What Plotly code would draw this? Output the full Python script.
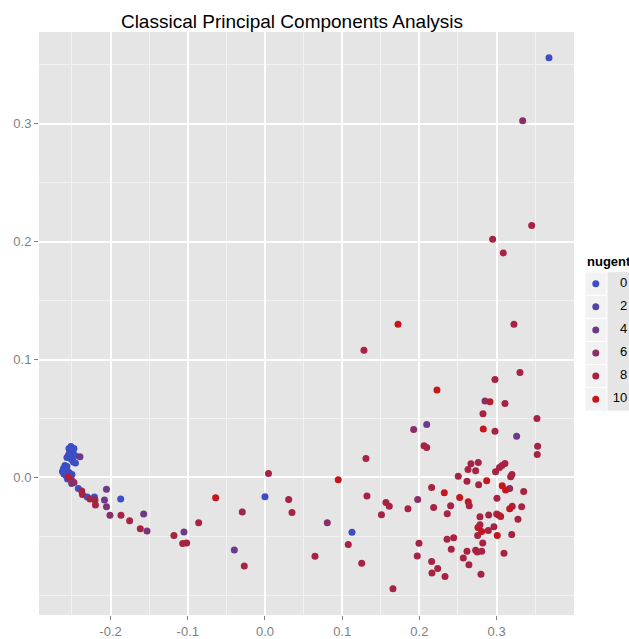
import plotly.graph_objects as go

# ---- data (PC1, PC2, nugent score) ----
pc1 = [
    -0.2513, -0.2494, -0.2526, -0.2474, -0.2545, -0.2565, -0.2487, -0.2461, -0.2506, -0.2481,
    -0.2455, -0.2539, -0.2526, -0.2591, -0.2610, -0.2623, -0.2604, -0.2571, -0.2545, -0.2578,
    -0.2526, -0.2565, -0.2604, -0.2539, -0.2558, -0.2500, -0.2418, -0.2302, -0.2209, -0.1869,
    0.0000, 0.1127, 0.3679,
    -0.2396, -0.2548, -0.2504, -0.2504, -0.2474, -0.2374, -0.2364, -0.2267, -0.2202, -0.2196,
    -0.2053, -0.2079, -0.2053, -0.2008, -0.1865, -0.1753, -0.1615, -0.1571, -0.1528, -0.1179,
    -0.1049, -0.1066, -0.1014, -0.0859, -0.0639, -0.0397, -0.0294, -0.0268,
    0.0045, 0.0307, 0.0350, 0.0648, 0.0807, 0.0949, 0.1079, 0.1253, 0.1282, 0.1308,
    0.1321, 0.1509, 0.1567, 0.1610, 0.1658, 0.1723, 0.1852, 0.1926, 0.1978, 0.1995,
    0.1973, 0.2060, 0.2095, 0.2095, 0.2159, 0.2185, 0.2159, 0.2163, 0.2237, 0.2228,
    0.2332, 0.2323, 0.2405, 0.2361, 0.2358, 0.2444, 0.2413, 0.2504, 0.2522, 0.2630,
    0.2668, 0.2729, 0.2763, 0.2617, 0.2768, 0.2872, 0.2633, 0.2646, 0.3005, 0.2785,
    0.2898, 0.2759, 0.2785, 0.2807, 0.2755, 0.2821, 0.2617, 0.2729, 0.2750, 0.2807,
    0.2569, 0.2642, 0.2798, 0.2966, 0.2893, 0.3009, 0.3096, 0.3196, 0.3170, 0.3351,
    0.3325, 0.3203, 0.3170, 0.3277, 0.3073, 0.3117, 0.2987, 0.3183, 0.3199, 0.3001,
    0.3031, 0.3053, 0.3038, 0.3070, 0.3109, 0.3532, 0.3527, 0.2979, 0.3260, 0.2828,
    0.2824, 0.3523, 0.2850, 0.2915, 0.3109, 0.2979, 0.3303, 0.3225, 0.3087, 0.2949,
    0.3455, 0.3338,
]
pc2 = [
    0.0262, 0.0237, 0.0220, 0.0245, 0.0190, 0.0169, 0.0207, 0.0186, 0.0152, 0.0131,
    0.0123, 0.0245, 0.0186, 0.0101, 0.0076, 0.0051, 0.0030, 0.0063, 0.0046, 0.0017,
    0.0034, 0.0093, 0.0059, 0.0008, -0.0013, 0.0025, -0.0093, -0.0165, -0.0165, -0.0183,
    -0.0163, -0.0465, 0.3558,
    0.0175, 0.0004, -0.0023, -0.0051, -0.0042, -0.0114, -0.0144, -0.0183, -0.0192, -0.0234,
    -0.0099, -0.0190, -0.0248, -0.0321, -0.0321, -0.0366, -0.0434, -0.0310, -0.0454, -0.0493,
    -0.0462, -0.0560, -0.0555, -0.0383, -0.0172, -0.0614, -0.0293, -0.0750,
    0.0034, -0.0186, -0.0296, -0.0668, -0.0383, -0.0019, -0.0569, -0.0727, 0.1079, 0.0161,
    -0.0158, -0.0315, -0.0213, -0.0243, -0.0944, 0.1299, -0.0265, 0.0406, -0.0186, -0.0558,
    -0.0665, 0.0268, 0.0254, 0.0450, -0.0085, -0.0254, -0.0712, -0.0809, -0.0772, 0.0741,
    -0.0839, -0.0129, -0.0239, -0.0307, -0.0524, -0.0510, -0.0608, 0.0011, -0.0169, 0.0068,
    0.0116, 0.0057, 0.0127, -0.0031, -0.0062, -0.0028, -0.0205, -0.0239, -0.0177, -0.0332,
    -0.0319, -0.0425, -0.0400, -0.0459, -0.0493, -0.0555, -0.0625, -0.0617, -0.0631, -0.0625,
    -0.0682, -0.0741, -0.0820, -0.0417, -0.0450, -0.0493, -0.0642, -0.0484, -0.0093, -0.0118,
    -0.0248, -0.0245, -0.0265, -0.0355, -0.0070, -0.0107, 0.0048, 0.0006, 0.0025, -0.0310,
    -0.0321, -0.0330, 0.0085, 0.0101, 0.0118, 0.0265, 0.0194, 0.0391, 0.0349, 0.0412,
    0.0541, 0.0501, 0.0648, 0.0642, 0.0628, 0.0831, 0.0890, 0.1299, 0.1904, 0.2020,
    0.2136, 0.3025,
]
nugent = [
    0, 0, 0, 0, 0, 0, 0, 0, 0, 0,
    0, 0, 0, 0, 0, 0, 0, 0, 0, 0,
    0, 0, 0, 0, 0, 0, 0, 0, 0, 0,
    0, 0, 0,
    4, 9, 8, 5, 6, 8, 8, 8, 8, 8,
    4, 4, 5, 6, 8, 8, 8, 4, 5, 8,
    4, 8, 8, 8, 10, 4, 7, 8,
    8, 8, 8, 8, 6, 10, 8, 8, 8, 8,
    8, 8, 8, 8, 8, 10, 8, 6, 6, 8,
    8, 8, 8, 4, 8, 8, 8, 8, 8, 10,
    8, 10, 8, 8, 8, 8, 8, 8, 10, 8,
    8, 8, 8, 8, 8, 10, 10, 8, 8, 8,
    8, 10, 8, 10, 8, 8, 8, 8, 8, 8,
    8, 8, 8, 8, 8, 10, 8, 8, 6, 8,
    8, 8, 10, 8, 10, 10, 8, 8, 8, 8,
    9, 9, 8, 8, 8, 8, 8, 8, 4, 10,
    8, 8, 6, 9, 8, 8, 8, 8, 8, 8,
    8, 6,
]

legend_breaks = [0, 2, 4, 6, 8, 10]
legend_labels = ["0", "2", "4", "6", "8", "10"]
x_ticks = [-0.2, -0.1, 0.0, 0.1, 0.2, 0.3]
x_ticklabels = ["-0.2", "-0.1", "0.0", "0.1", "0.2", "0.3"]
y_ticks = [0.0, 0.1, 0.2, 0.3]
y_ticklabels = ["0.0", "0.1", "0.2", "0.3"]
x_minor = [-0.25, -0.15, -0.05, 0.05, 0.15, 0.25, 0.35]
y_minor = [-0.1, -0.05, 0.05, 0.15, 0.25, 0.35]

colorscale = [
    [0.0, "#3D4EC4"],
    [0.2, "#5444A9"],
    [0.4, "#6D3A8B"],
    [0.6, "#8B2D66"],
    [0.8, "#A72343"],
    [1.0, "#C4161C"],
]

FONT = "Liberation Sans, Arial, Helvetica, sans-serif"

W, H = 629, 639
ML, MR, MT, MB = 39, 0, 32, 22
pw = W - ML - MR
ph = H - MT - MB
main_right = 574
leg_left = 585

fig = go.Figure()

fig.add_trace(go.Scatter(
    x=pc1, y=pc2, mode="markers",
    marker=dict(size=7, color=nugent, colorscale=colorscale, cmin=0, cmax=10,
                showscale=False, line=dict(width=0)),
    showlegend=False, hoverinfo="x+y",
    xaxis="x", yaxis="y",
))

# legend keys drawn on a small helper axis
for b in legend_breaks:
    fig.add_shape(type="rect", xref="x2", yref="y2", x0=0, x1=0.5, y0=b - 1, y1=b + 1,
                  fillcolor="#F2F2F2", line=dict(color="white", width=1), layer="below")

fig.add_trace(go.Scatter(
    x=[0.245] * len(legend_breaks), y=legend_breaks, mode="markers",
    marker=dict(size=7, color=legend_breaks, colorscale=colorscale, cmin=0, cmax=10,
                showscale=False),
    showlegend=False, hoverinfo="skip", xaxis="x2", yaxis="y2",
))
fig.add_trace(go.Scatter(
    x=[0.96] * len(legend_breaks), y=legend_breaks, mode="text",
    text=legend_labels, textposition="middle left",
    textfont=dict(size=13, color="black", family=FONT),
    showlegend=False, hoverinfo="skip", xaxis="x2", yaxis="y2",
))

fig.add_annotation(
    text="<b>nugent</b>", xref="paper", yref="paper",
    x=(leg_left - ML) / pw, y=(H - MB - 262) / ph,
    xanchor="left", yanchor="middle", showarrow=False,
    font=dict(size=13, color="black", family=FONT),
)

fig.update_layout(
    width=W, height=H,
    margin=dict(l=ML, r=MR, t=MT, b=MB, pad=0),
    paper_bgcolor="white",
    plot_bgcolor="#E5E5E5",
    font=dict(family=FONT, color="#7F7F7F", size=13),
    title=dict(text="Classical Principal Components Analysis",
               x=292 / W, xref="container", xanchor="center",
               y=1 - 21 / H, yref="container", yanchor="middle",
               font=dict(size=19, color="black", family=FONT)),
    xaxis=dict(domain=[0, (main_right - ML) / pw], range=[-0.2927, 0.4003],
               tickmode="array", tickvals=x_ticks, ticktext=x_ticklabels,
               ticks="outside", ticklen=4, tickcolor="#7F7F7F", tickwidth=1,
               showgrid=True, gridcolor="white", gridwidth=1.5, zeroline=False,
               showline=False,
               minor=dict(tickmode="array", tickvals=x_minor, showgrid=True,
                          gridcolor="#F2F2F2", gridwidth=0.8, ticks=""),
               tickfont=dict(size=13, color="#7F7F7F")),
    yaxis=dict(domain=[0, 1], range=[-0.1166, 0.3777],
               tickmode="array", tickvals=y_ticks, ticktext=y_ticklabels,
               ticks="outside", ticklen=4, tickcolor="#7F7F7F", tickwidth=1,
               showgrid=True, gridcolor="white", gridwidth=1.5, zeroline=False,
               showline=False,
               minor=dict(tickmode="array", tickvals=y_minor, showgrid=True,
                          gridcolor="#F2F2F2", gridwidth=0.8, ticks=""),
               tickfont=dict(size=13, color="#7F7F7F")),
    xaxis2=dict(domain=[(leg_left - ML) / pw, 1], range=[0, 1], visible=False,
                fixedrange=True),
    yaxis2=dict(domain=[(H - MB - 412) / ph, (H - MB - 273) / ph], range=[11, -1],
                visible=False, fixedrange=True, anchor="x2"),
    showlegend=False,
)
fig.update_layout(xaxis2_anchor="y2")

fig.write_html(
    "out.html",
    config={"displayModeBar": False},
    post_script=(
        "document.documentElement.style.margin='0';"
        "document.documentElement.style.overflow='hidden';"
        "document.body.style.margin='0';"
        "document.body.style.padding='0';"
        "document.body.style.overflow='hidden';"
    ),
)
